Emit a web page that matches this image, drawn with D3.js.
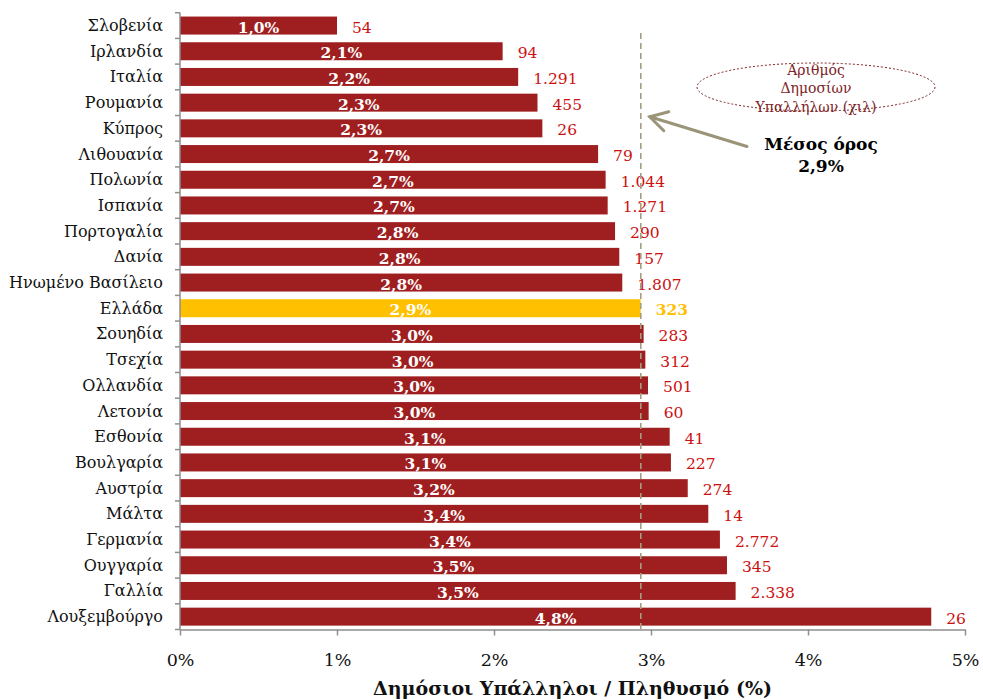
<!DOCTYPE html>
<html>
<head>
<meta charset="utf-8">
<script src="https://cdn.jsdelivr.net/npm/d3@7"></script>
<style>
  html, body { margin: 0; padding: 0; background: #ffffff; }
  svg { display: block; }
</style>
</head>
<body>
<script>
// ---- Data ----
const countries = ["Σλοβενία", "Ιρλανδία", "Ιταλία", "Ρουμανία", "Κύπρος", "Λιθουανία", "Πολωνία", "Ισπανία",
  "Πορτογαλία", "Δανία", "Ηνωμένο Βασίλειο", "Ελλάδα", "Σουηδία", "Τσεχία", "Ολλανδία", "Λετονία",
  "Εσθονία", "Βουλγαρία", "Αυστρία", "Μάλτα", "Γερμανία", "Ουγγαρία", "Γαλλία", "Λουξεμβούργο"];
const ratios = [1.00, 2.055, 2.154, 2.277, 2.308, 2.663, 2.711, 2.724, 2.771, 2.798, 2.817, 2.934,
  2.953, 2.964, 2.981, 2.985, 3.119, 3.127, 3.234, 3.365, 3.439, 3.484, 3.539, 4.785];
const employees = [54, 94, 1291, 455, 26, 79, 1044, 1271, 290, 157, 1807, 323, 283, 312, 501, 60,
  41, 227, 274, 14, 2772, 345, 2338, 26];
const highlightCountry = "Ελλάδα";
const meanValue = 2.935;
const meanLabel = ["Μέσος όρος", "2,9%"];
const xTicks = [0, 1, 2, 3, 4, 5];
const legendLines = ["Αριθμός", "Δημοσίων", "Υπαλλήλων (χιλ)"];
const xTitle = "Δημόσιοι Υπάλληλοι / Πληθυσμό (%)";

// ---- Layout ----
const W = 983, H = 700;
const pLeft = 180, pRight = 965, pTop = 12.7, pBottom = 629.5;
const FONT = "'DejaVu Serif', Georgia, serif";
const barColor = "#9f1f21", hiColor = "#ffc000", valColor = "#cc1010";
const axisColor = "#8e8e8e", meanColor = "#a39d82";

const svg = d3.select("body").append("svg").attr("width", W).attr("height", H)
  .style("font-family", FONT);

const x = d3.scaleLinear().domain([0, 5]).range([pLeft, pRight]);
const y = d3.scaleBand().domain(countries).range([pTop, pBottom]).paddingInner(0.3).paddingOuter(0.15);

const data = countries.map((c, i) => ({ c, v: ratios[i], n: employees[i] }));
const fmtPct = v => (Math.round(v * 10) / 10).toFixed(1).replace(".", ",") + "%";
const fmtN = v => d3.format(",")(v).replace(/,/g, ".");

// bars
svg.append("g").selectAll("rect").data(data).join("rect")
  .attr("x", x(0)).attr("y", d => y(d.c))
  .attr("width", d => x(d.v) - x(0)).attr("height", y.bandwidth())
  .attr("fill", d => d.c === highlightCountry ? hiColor : barColor);

// in-bar labels
svg.append("g").selectAll("text").data(data).join("text")
  .attr("x", d => (x(0) + x(d.v)) / 2)
  .attr("y", d => y(d.c) + y.bandwidth() / 2 + 7)
  .attr("text-anchor", "middle")
  .attr("fill", "#ffffff").attr("font-weight", "bold").attr("font-size", 15.5)
  .text(d => fmtPct(d.v));

// value labels (thousands of employees)
svg.append("g").selectAll("text").data(data).join("text")
  .attr("x", d => x(d.v) + 15)
  .attr("y", d => y(d.c) + y.bandwidth() / 2 + 7)
  .attr("fill", d => d.c === highlightCountry ? hiColor : valColor)
  .attr("font-weight", d => d.c === highlightCountry ? "bold" : "normal")
  .attr("font-size", 15.5)
  .text(d => fmtN(d.n));

// mean line
svg.append("line")
  .attr("x1", x(meanValue)).attr("x2", x(meanValue))
  .attr("y1", 33).attr("y2", pBottom)
  .attr("stroke", meanColor).attr("stroke-width", 1.6).attr("stroke-dasharray", "6,4");

// left axis (category)
const gy = svg.append("g");
gy.append("line").attr("x1", pLeft).attr("x2", pLeft).attr("y1", pTop).attr("y2", pBottom)
  .attr("stroke", axisColor).attr("stroke-width", 1.5);
const bounds = d3.range(countries.length + 1).map(i => pTop + i * y.step());
gy.selectAll("line.t").data(bounds).join("line").attr("class", "t")
  .attr("x1", pLeft - 5).attr("x2", pLeft).attr("y1", d => d).attr("y2", d => d)
  .attr("stroke", axisColor).attr("stroke-width", 1.5);
gy.selectAll("text").data(countries).join("text")
  .attr("x", 163).attr("y", d => y(d) + y.bandwidth() / 2 + 5.5)
  .attr("text-anchor", "end").attr("font-size", 16).attr("fill", "#111")
  .text(d => d);

// bottom axis
const gx = svg.append("g").attr("transform", `translate(0,${pBottom})`)
  .call(d3.axisBottom(x).tickValues(xTicks).tickFormat(d => d + "%").tickSize(6).tickSizeOuter(0));
gx.select(".domain").attr("stroke", axisColor).attr("stroke-width", 1.5);
gx.selectAll(".tick line").attr("stroke", axisColor).attr("stroke-width", 1.5);
gx.selectAll(".tick text").attr("y", 36).attr("dy", 0)
  .attr("font-family", FONT).attr("font-size", 17.5).attr("fill", "#111");

// x title
svg.append("text").attr("x", (pLeft + pRight) / 2).attr("y", 695)
  .attr("text-anchor", "middle").attr("font-weight", "bold").attr("font-size", 19).attr("fill", "#111")
  .text(xTitle);

// legend ellipse
svg.append("ellipse").attr("cx", 816).attr("cy", 87).attr("rx", 119).attr("ry", 24)
  .attr("fill", "none").attr("stroke", "#7d2426").attr("stroke-width", 1).attr("stroke-dasharray", "2,2");
svg.append("g").selectAll("text").data(legendLines).join("text")
  .attr("x", 816).attr("y", (d, i) => 74.5 + i * 18.7)
  .attr("text-anchor", "middle").attr("font-size", 14).attr("fill", "#7d2426")
  .text(d => d);

// mean annotation
svg.append("g").selectAll("text").data(meanLabel).join("text")
  .attr("x", 821).attr("y", (d, i) => 150 + i * 22)
  .attr("text-anchor", "middle").attr("font-weight", "bold").attr("font-size", 17).attr("fill", "#000")
  .text(d => d);

// arrow
const tip = [x(meanValue) + 9, 116.7], tail = [747, 146.5];
const arrow = svg.append("g").attr("stroke", "#9b9478").attr("stroke-width", 3)
  .attr("fill", "none").attr("stroke-linecap", "round");
arrow.append("line").attr("x1", tail[0]).attr("y1", tail[1]).attr("x2", tip[0]).attr("y2", tip[1]);
arrow.append("polyline").attr("points", `${tip[0] + 19},${tip[1] - 5} ${tip[0]},${tip[1]} ${tip[0] + 14},${tip[1] + 14}`)
  .attr("stroke-linejoin", "miter");
</script>
</body>
</html>
